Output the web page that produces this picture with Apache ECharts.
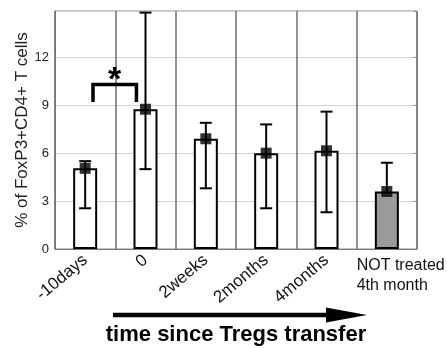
<!DOCTYPE html>
<html>
<head>
<meta charset="utf-8">
<script src="https://cdn.jsdelivr.net/npm/echarts@6/dist/echarts.min.js"></script>
<style>
  html, body { margin: 0; padding: 0; background: #fff; }
  #chart { width: 447px; height: 348px; }
</style>
</head>
<body>
<div id="chart"></div>
<script>
// 数据
const categories = ["-10days", "0", "2weeks", "2months", "4months", "NOT treated\n4th month"];
const means = [5.05, 8.75, 6.9, 6.0, 6.15, 3.6];
const errLow = [2.55, 5.0, 3.8, 2.55, 2.3, 3.6];
const errHigh = [5.5, 14.8, 7.9, 7.8, 8.6, 5.4];
const barColors = ["#ffffff", "#ffffff", "#ffffff", "#ffffff", "#ffffff", "#9a9a9a"];
const yTicks = [0, 3, 6, 9, 12];
// 显著性标记: 从第0组到第1组
const sigPair = [0, 1];
const sigLevel = 10.3;

const font = "'Liberation Sans', Arial, sans-serif";
const chart = echarts.init(document.getElementById("chart"));

const option = {
    animation: false,
    backgroundColor: "#fff",
    grid: {
        left: 55,
        right: 30,
        top: 11,
        bottom: 99,
        show: true,
        borderColor: "#8a8a8a",
        borderWidth: 1,
        containLabel: false,
        outerBoundsMode: "none",
    },
    xAxis: [
        {
            type: "category",
            data: categories,
            name: "time since Tregs transfer",
            nameLocation: "middle",
            nameGap: 75,
            nameMoveOverlap: false,
            nameTextStyle: { fontFamily: font, fontSize: 22, fontWeight: "bold", color: "#000" },
            axisLine: { lineStyle: { color: "#777", width: 1 } },
            axisTick: { show: false },
            splitLine: { show: true, lineStyle: { color: "#6e6e6e", width: 1.5 } },
            axisLabel: {
                rotate: 40,
                margin: 9,
                fontFamily: font,
                fontSize: 17,
                color: "#111",
                // 最后一个标签另外画 (不旋转)
                formatter: (v, i) => (i === categories.length - 1 ? "" : v),
            },
        },
        {
            // 只用来放 "NOT treated 4th month" 水平标签
            type: "value",
            min: 0,
            max: categories.length,
            interval: 1,
            position: "bottom",
            axisLine: { show: false },
            axisTick: { show: false },
            splitLine: { show: false },
            axisLabel: {
                align: "left",
                margin: 7,
                fontFamily: font,
                fontSize: 16,
                lineHeight: 20,
                color: "#111",
                formatter: (v) => (v === categories.length - 1 ? categories[v] : ""),
            },
        },
    ],
    yAxis: [
        {
            type: "value",
            min: 0,
            max: 14.9,
            interval: 3,
            name: "% of FoxP3+CD4+ T cells",
            nameLocation: "middle",
            nameGap: 24,
            nameMoveOverlap: false,
            nameTextStyle: { fontFamily: font, fontSize: 17, color: "#222" },
            axisLine: { show: true, lineStyle: { color: "#777" } },
            axisTick: { show: false },
            axisLabel: {
                margin: 6,
                fontFamily: font,
                fontSize: 13,
                color: "#222",
                formatter: (v) => (yTicks.includes(v) ? String(v) : ""),
            },
            splitLine: { show: true, lineStyle: { color: "#d4d4d4", width: 1 } },
        },
        {
            type: "value",
            min: 0,
            max: 14.9,
            interval: 3,
            position: "right",
            axisLine: { show: false },
            axisTick: { show: true, inside: true, length: 3, lineStyle: { color: "#888" } },
            axisLabel: { show: false },
            splitLine: { show: false },
        },
    ],
    graphic: [
        // 时间箭头
        {
            type: "line",
            shape: { x1: 113, y1: 315, x2: 332, y2: 315 },
            style: { stroke: "#000", lineWidth: 4.5 },
        },
        {
            type: "polygon",
            shape: { points: [[326, 307.5], [367, 315], [326, 322.5]] },
            style: { fill: "#000" },
        },
    ],
    series: [
        {
            type: "bar",
            data: means.map((v, i) => ({ value: v, itemStyle: { color: barColors[i] } })),
            barWidth: 24,
            itemStyle: { borderColor: "#000", borderWidth: 2 },
            z: 2,
        },
        {
            // 误差线
            type: "custom",
            data: means.map((v, i) => [i, errLow[i], errHigh[i], v]),
            z: 3,
            renderItem: function (params, api) {
                const x = api.value(0);
                const top = api.coord([x, api.value(2)]);
                const bot = api.coord([x, api.value(1)]);
                const cap = 6;
                const children = [
                    { type: "line", shape: { x1: top[0], y1: top[1], x2: bot[0], y2: bot[1] }, style: { stroke: "#000", lineWidth: 2 } },
                    { type: "line", shape: { x1: top[0] - cap, y1: top[1], x2: top[0] + cap, y2: top[1] }, style: { stroke: "#000", lineWidth: 2 } },
                ];
                if (api.value(1) < api.value(3)) {
                    children.push({ type: "line", shape: { x1: bot[0] - cap, y1: bot[1], x2: bot[0] + cap, y2: bot[1] }, style: { stroke: "#000", lineWidth: 2 } });
                }
                return { type: "group", children: children };
            },
        },
        {
            type: "scatter",
            data: means.map((v, i) => [i, v]),
            symbol: "rect",
            symbolSize: 11,
            itemStyle: { color: "#000" },
            z: 4,
        },
        {
            // 显著性括号和星号
            type: "custom",
            data: [[sigPair[0], sigPair[1], sigLevel]],
            z: 5,
            renderItem: function (params, api) {
                const a = api.coord([api.value(0), api.value(2)]);
                const b = api.coord([api.value(1), api.value(2)]);
                const bw = api.size([1, 0])[0];
                const legBottom = api.coord([api.value(0), api.value(2) - 1.1])[1];
                const x1 = a[0] + bw * 0.13;
                const x2 = b[0] - bw * 0.15;
                return {
                    type: "group",
                    children: [
                        {
                            type: "polyline",
                            shape: { points: [[x1, legBottom], [x1, a[1]], [x2, a[1]], [x2, legBottom]] },
                            style: { stroke: "#000", lineWidth: 3.5, fill: null },
                        },
                        {
                            type: "text",
                            style: {
                                text: "*",
                                x: (x1 + x2) / 2,
                                y: a[1] + 13,
                                align: "center",
                                verticalAlign: "bottom",
                                font: "bold 34px " + font,
                                fill: "#000",
                            },
                        },
                    ],
                };
            },
        },
    ],
};

chart.setOption(option);
</script>
</body>
</html>
